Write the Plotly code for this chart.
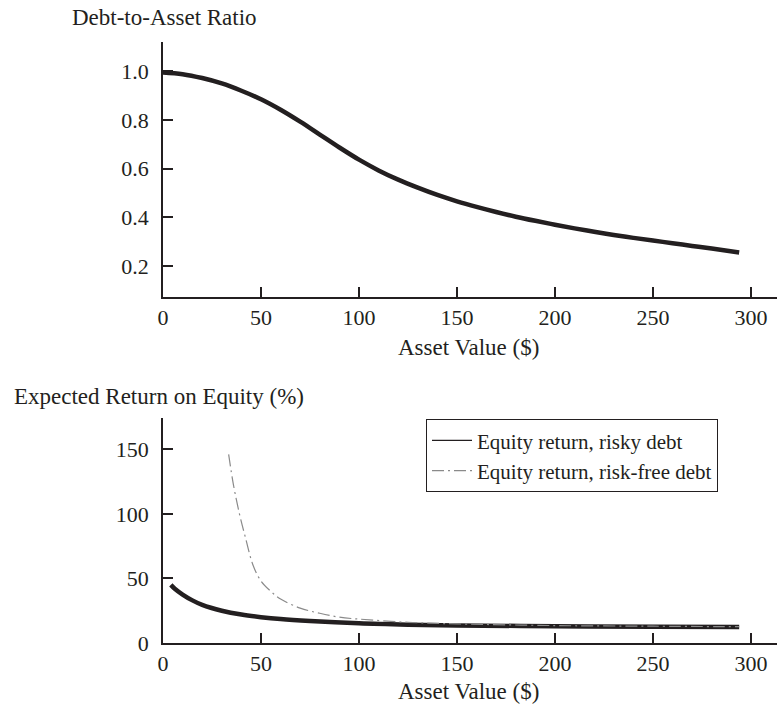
import plotly.graph_objects as go

# ---- data ----
asset_top = [0, 10, 20, 30, 40, 50, 60, 70, 80, 90, 100, 110, 120, 130, 140, 150,
             160, 170, 180, 190, 200, 210, 220, 230, 240, 250, 260, 270, 280, 294]
debt_ratio = [0.995, 0.988, 0.972, 0.95, 0.92, 0.885, 0.842, 0.793, 0.74, 0.687, 0.637,
              0.593, 0.555, 0.522, 0.492, 0.466, 0.443, 0.422, 0.403, 0.386, 0.37, 0.355,
              0.341, 0.328, 0.316, 0.305, 0.294, 0.283, 0.272, 0.256]

asset_risky = [4, 6, 10, 15, 20, 30, 40, 50, 60, 75, 100, 125, 150, 200, 250, 294]
ret_risky = [45, 42, 37.5, 33, 29.5, 25, 22, 20, 18.5, 17, 15.2, 14.2, 13.6, 13.0, 12.6, 12.4]

asset_rf = [33.5, 36, 39, 42, 46, 50, 55, 60, 70, 80, 90, 100, 125, 150, 200, 250, 294]
ret_rf = [146, 122, 100, 82, 60, 48, 40, 34, 27, 23, 20, 18.5, 16, 14.8, 13.5, 13.0, 12.6]

x_ticks = [0, 50, 100, 150, 200, 250, 300]
top_y_ticks = [0.2, 0.4, 0.6, 0.8, 1.0]
bot_y_ticks = [0, 50, 100, 150]

names = ["Equity return, risky debt", "Equity return, risk-free debt"]

# ---- styling ----
INK = "#231f20"
GREY = "#8a8a8a"
FONT = "Liberation Serif"
FS = 22
TFS = 23

W, H = 777, 706
ML, MR, MT, MB = 163, 0, 42, 63.3
PH = H - MT - MB


def py(pix):
    return (H - MB - pix) / PH


def px(pix):
    return (pix - ML) / (W - ML - MR)


fig = go.Figure()

fig.add_trace(go.Scatter(x=asset_top, y=debt_ratio, mode="lines", line=dict(color=INK, width=4.5, shape="spline"),
                         showlegend=False, xaxis="x", yaxis="y"))
fig.add_trace(go.Scatter(x=asset_risky, y=ret_risky, mode="lines", line=dict(color=INK, width=4.5, shape="spline"),
                         showlegend=False, xaxis="x2", yaxis="y2"))
fig.add_trace(go.Scatter(x=asset_rf, y=ret_rf, mode="lines",
                         line=dict(color=GREY, width=1.2, dash="12px,4px,2px,4px", shape="spline"),
                         showlegend=False, xaxis="x2", yaxis="y2"))
# legend entries (thin sample lines as in the reference)
fig.add_trace(go.Scatter(x=[None], y=[None], mode="lines", name=names[0],
                         line=dict(color=INK, width=1.2), xaxis="x2", yaxis="y2"))
fig.add_trace(go.Scatter(x=[None], y=[None], mode="lines", name=names[1],
                         line=dict(color=GREY, width=1.2, dash="12px,4px,2px,4px"), xaxis="x2", yaxis="y2"))

axis_common = dict(showline=True, linecolor=INK, linewidth=1.6, ticks="inside", ticklen=10,
                   tickwidth=1.5, tickcolor=INK, showgrid=False, zeroline=False,
                   tickfont=dict(family=FONT, size=FS, color=INK))

fig.update_layout(
    width=W, height=H,
    margin=dict(l=ML, r=MR, t=MT, b=MB),
    paper_bgcolor="white", plot_bgcolor="white",
    font=dict(family=FONT, size=FS, color=INK),
    xaxis=dict(domain=[0, 1], range=[0, 313.3], tickvals=x_ticks, anchor="y", **axis_common),
    yaxis=dict(domain=[py(296.7), 1], range=[0.074, 1.12], tickvals=top_y_ticks,
               tickformat=".1f", anchor="x", ticklabelstandoff=8, **axis_common),
    xaxis2=dict(domain=[0, 1], range=[0, 313.3], tickvals=x_ticks, anchor="y2", **axis_common),
    yaxis2=dict(domain=[0, py(418)], range=[0, 174], tickvals=bot_y_ticks,
                anchor="x2", ticklabelstandoff=8, **axis_common),
    legend=dict(x=px(426), y=py(419), xref="paper", yref="paper",
                xanchor="left", yanchor="top", bordercolor=INK, borderwidth=1,
                bgcolor="white", font=dict(family=FONT, size=21, color=INK),
                itemwidth=40, tracegroupgap=0),
    showlegend=True,
)

# axis titles as annotations (placed like the reference)
fig.add_annotation(text="Debt-to-Asset Ratio", xref="paper", yref="paper",
                   x=px(70), y=py(18), xanchor="left", yanchor="middle",
                   showarrow=False, font=dict(family=FONT, size=TFS, color=INK))
fig.add_annotation(text="Asset Value ($)", xref="paper", yref="paper",
                   x=px(468), y=py(347), xanchor="center", yanchor="middle",
                   showarrow=False, font=dict(family=FONT, size=TFS, color=INK))
fig.add_annotation(text="Expected Return on Equity (%)", xref="paper", yref="paper",
                   x=px(12), y=py(396), xanchor="left", yanchor="middle",
                   showarrow=False, font=dict(family=FONT, size=TFS, color=INK))
fig.add_annotation(text="Asset Value ($)", xref="paper", yref="paper",
                   x=px(468), y=py(691), xanchor="center", yanchor="middle",
                   showarrow=False, font=dict(family=FONT, size=TFS, color=INK))

fig.write_html("out.html", config={"displayModeBar": False},
               post_script="document.body.style.margin='0';document.body.style.overflow='hidden';")
